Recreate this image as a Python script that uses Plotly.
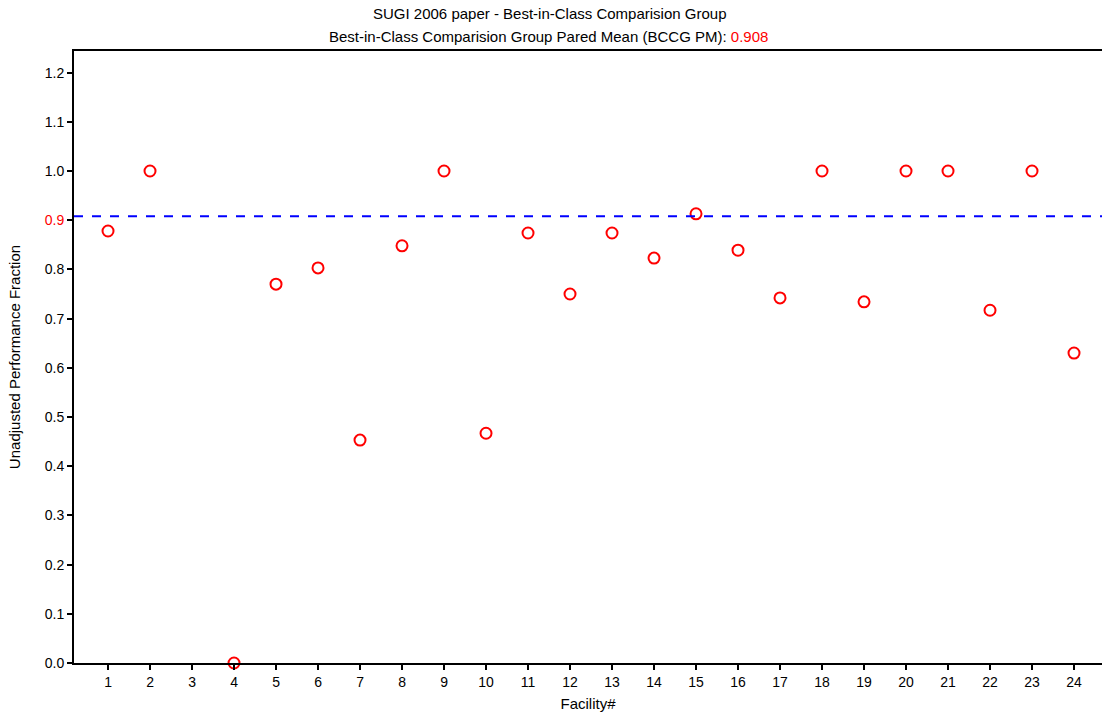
import plotly.graph_objects as go

facilities = list(range(1, 25))
values = [0.878, 1.0, None, 0.0, 0.770, 0.803, 0.453, 0.848, 1.0, 0.467,
          0.874, 0.750, 0.874, 0.823, 0.913, 0.839, 0.742, 1.0, 0.734, 1.0,
          1.0, 0.717, 1.0, 0.630]
pared_mean = 0.908
y_ticks = [0.0, 0.1, 0.2, 0.3, 0.4, 0.5, 0.6, 0.7, 0.8, 0.9, 1.0, 1.1, 1.2]

font_family = "Liberation Sans, Arial, sans-serif"

fig = go.Figure()
fig.add_trace(go.Scatter(
    x=facilities, y=values, mode="markers",
    marker=dict(symbol="circle-open", size=11, color="red", line=dict(width=2, color="red")),
    cliponaxis=False, showlegend=False,
))
fig.add_hline(y=pared_mean, line=dict(color="blue", width=2, dash="dash"))

ticktext = []
for v in y_ticks:
    s = f"{v:.1f}"
    if abs(v - 0.9) < 1e-9:
        s = f"<span style='color:red'>{s}</span>"
    ticktext.append(s)

fig.update_layout(
    width=1102, height=715,
    margin=dict(l=74, r=0, t=51, b=52),
    paper_bgcolor="white", plot_bgcolor="white",
    font=dict(family=font_family, size=14, color="black"),
)

fig.add_annotation(text="SUGI 2006 paper - Best-in-Class Comparision Group",
                   x=(549 - 74) / 1028, xref="paper", y=1 + (51 - 14) / 612, yref="paper",
                   xanchor="center", yanchor="middle", showarrow=False, font=dict(size=15))
fig.add_annotation(text="Best-in-Class Comparision Group Pared Mean (BCCG PM): "
                        f"<span style='color:red'>{pared_mean:.3f}</span>",
                   x=(548 - 74) / 1028, xref="paper", y=1 + (51 - 36) / 612, yref="paper",
                   xanchor="center", yanchor="middle", showarrow=False, font=dict(size=15))

fig.update_xaxes(
    range=[0.19, 0.19 + 1028 / 42], tickmode="array", tickvals=facilities,
    ticktext=[str(f) for f in facilities],
    showline=True, linecolor="black", linewidth=2, mirror=True,
    ticks="outside", ticklen=5, tickwidth=2, tickcolor="black",
    showgrid=False, zeroline=False,
    title=dict(text="Facility#", standoff=10, font=dict(size=15)),
)
fig.update_yaxes(
    range=[0, 612 / 492], tickmode="array", tickvals=y_ticks, ticktext=ticktext,
    showline=True, linecolor="black", linewidth=2, mirror=False,
    ticks="outside", ticklen=5, tickwidth=2, tickcolor="black",
    showgrid=False, zeroline=False,
    title=dict(text="Unadjusted Performance Fraction", standoff=20, font=dict(size=15)),
)

fig.write_html("out.html", config={"displayModeBar": False},
               post_script="document.body.style.margin='0';document.body.style.overflow='hidden';")
